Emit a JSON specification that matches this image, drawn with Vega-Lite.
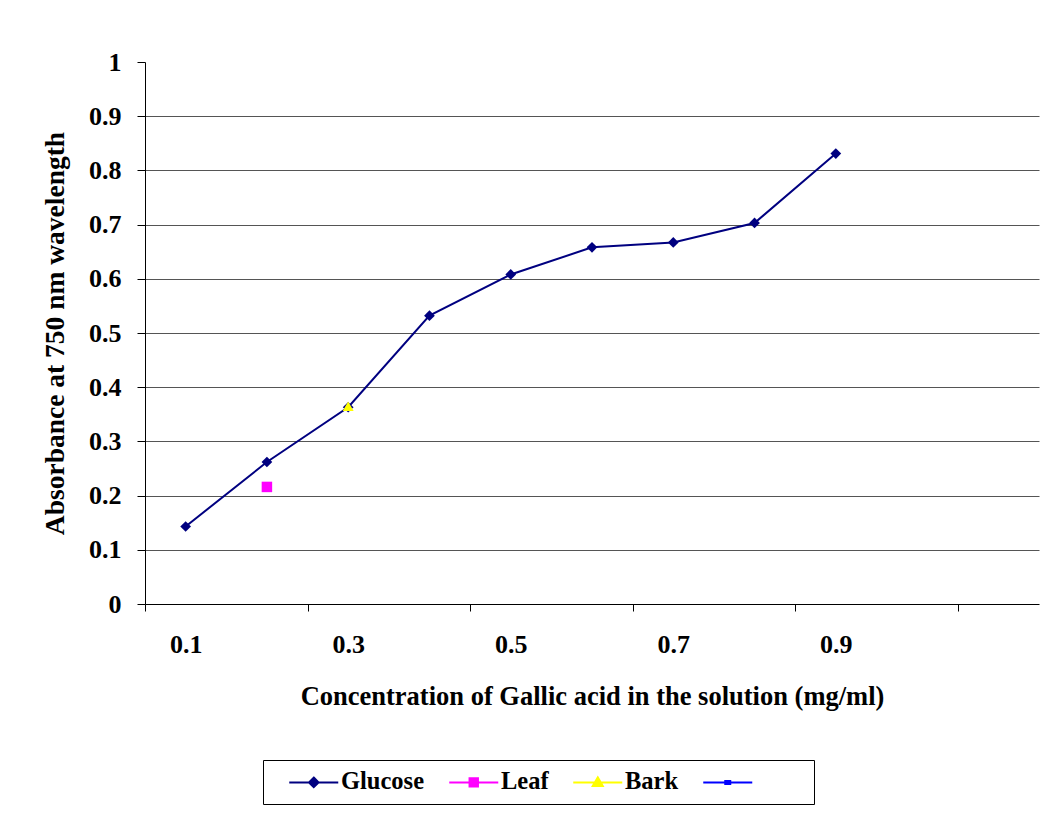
{
  "$schema": "https://vega.github.io/schema/vega-lite/v6.json",
  "width": 894,
  "height": 542,
  "autosize": {"type": "none"},
  "padding": {"left": 145, "top": 62, "right": 15, "bottom": 210},
  "background": "#ffffff",
  "data": {
    "values": [
      {"series": "Glucose", "x": 0.1, "y": 0.143},
      {"series": "Glucose", "x": 0.2, "y": 0.262},
      {"series": "Glucose", "x": 0.3, "y": 0.363},
      {"series": "Glucose", "x": 0.4, "y": 0.532},
      {"series": "Glucose", "x": 0.5, "y": 0.608},
      {"series": "Glucose", "x": 0.6, "y": 0.658},
      {"series": "Glucose", "x": 0.7, "y": 0.667},
      {"series": "Glucose", "x": 0.8, "y": 0.703},
      {"series": "Glucose", "x": 0.9, "y": 0.831},
      {"series": "Leaf", "x": 0.2, "y": 0.216},
      {"series": "Bark", "x": 0.3, "y": 0.365}
    ]
  },
  "config": {
    "view": {"stroke": null},
    "font": "Liberation Serif",
    "axis": {
      "labelFont": "Liberation Serif",
      "labelFontWeight": "bold",
      "labelColor": "#000",
      "titleFont": "Liberation Serif",
      "titleFontWeight": "bold",
      "titleColor": "#000",
      "domainColor": "#000",
      "tickColor": "#000",
      "domainWidth": 1,
      "tickWidth": 1
    }
  },
  "layer": [
    {
      "mark": {"type": "line", "strokeWidth": 2, "clip": false},
      "encoding": {
        "x": {
          "field": "x", "type": "quantitative",
          "scale": {"domain": [0.05, 1.15], "nice": false, "zero": false},
          "axis": {
            "orient": "bottom",
            "values": [0.1, 0.3, 0.5, 0.7, 0.9],
            "format": "~g",
            "ticks": false,
            "grid": false,
            "labelFontSize": 26,
            "labelPadding": 27,
            "title": "Concentration of Gallic acid in the solution (mg/ml)",
            "titleFontSize": 26.5,
            "titlePadding": 26
          }
        },
        "y": {
          "field": "y", "type": "quantitative",
          "scale": {"domain": [0, 1], "nice": false},
          "axis": {
            "values": [0, 0.1, 0.2, 0.3, 0.4, 0.5, 0.6, 0.7, 0.8, 0.9, 1],
            "format": "~g",
            "tickSize": 8,
            "labelFontSize": 26,
            "labelPadding": 16,
            "grid": true,
            "gridColor": "#555",
            "gridWidth": 1,
            "gridOpacity": {"condition": {"test": "datum.value > 0.95 || datum.value < 0.05", "value": 0}, "value": 1},
            "title": "Absorbance at 750 nm wavelength",
            "titleFontSize": 27.5,
            "titlePadding": 19
          }
        },
        "color": {
          "field": "series", "type": "nominal",
          "scale": {"domain": ["Glucose", "Leaf", "Bark", " "], "range": ["#000080", "#FF00FF", "#FFFF00", "#0000FF"]},
          "legend": {
            "orient": "none",
            "legendX": 118,
            "legendY": 698,
            "direction": "horizontal",
            "columns": 4,
            "title": null,
            "strokeColor": "#000",
            "padding": 10,
            "labelFont": "Liberation Serif",
            "labelFontSize": 24.5,
            "labelFontWeight": "bold",
            "labelColor": "#000",
            "symbolSize": 400,
            "symbolStrokeWidth": 2,
            "symbolOffset": 28.5,
            "columnPadding": 8,
            "labelOffset": 15,
            "encode": {
              "symbols": {
                "update": {
                  "shape": {"signal": "datum.value === 'Glucose' ? 'M-2.45,0H2.45M0,-0.48L0.48,0L0,0.48L-0.48,0Z' : datum.value === 'Leaf' ? 'M-2.45,0H2.45M-0.42,-0.42H0.42V0.42H-0.42Z' : datum.value === 'Bark' ? 'M-2.45,0H2.45M0,-0.5L0.5,0.35H-0.5Z' : 'M-2.45,0H2.45M-0.25,-0.15H0.25V0.15H-0.25ZM7.2,0'"},
                  "fill": {"scale": "color", "field": "value"},
                  "stroke": {"scale": "color", "field": "value"},
                  "strokeWidth": {"value": 2},
                  "opacity": {"value": 1}
                }
              }
            }
          }
        }
      }
    },
    {
      "transform": [{"filter": "datum.series === 'Glucose'"}],
      "mark": {"type": "point", "shape": "diamond", "filled": true, "opacity": 1, "size": 115, "clip": false},
      "encoding": {
        "x": {"field": "x", "type": "quantitative", "axis": null},
        "y": {"field": "y", "type": "quantitative"},
        "color": {"field": "series", "type": "nominal"}
      }
    },
    {
      "transform": [{"filter": "datum.series === 'Leaf'"}],
      "mark": {"type": "point", "shape": "square", "filled": true, "opacity": 1, "size": 110, "clip": false},
      "encoding": {
        "x": {"field": "x", "type": "quantitative", "axis": null},
        "y": {"field": "y", "type": "quantitative"},
        "color": {"field": "series", "type": "nominal"}
      }
    },
    {
      "transform": [{"filter": "datum.series === 'Bark'"}],
      "mark": {"type": "point", "shape": "triangle-up", "filled": true, "opacity": 1, "size": 120, "clip": false},
      "encoding": {
        "x": {"field": "x", "type": "quantitative", "axis": null},
        "y": {"field": "y", "type": "quantitative"},
        "color": {"field": "series", "type": "nominal"}
      }
    },
    {
      "mark": {"type": "point", "opacity": 0},
      "encoding": {
        "x": {
          "field": "x", "type": "quantitative",
          "axis": {
            "orient": "bottom",
            "values": [0.05, 0.25, 0.45, 0.65, 0.85, 1.05],
            "labels": false,
            "domain": false,
            "grid": false,
            "ticks": true,
            "tickSize": 7,
            "title": null
          }
        },
        "y": {"field": "y", "type": "quantitative"}
      }
    }
  ],
  "resolve": {"axis": {"x": "independent"}}
}
